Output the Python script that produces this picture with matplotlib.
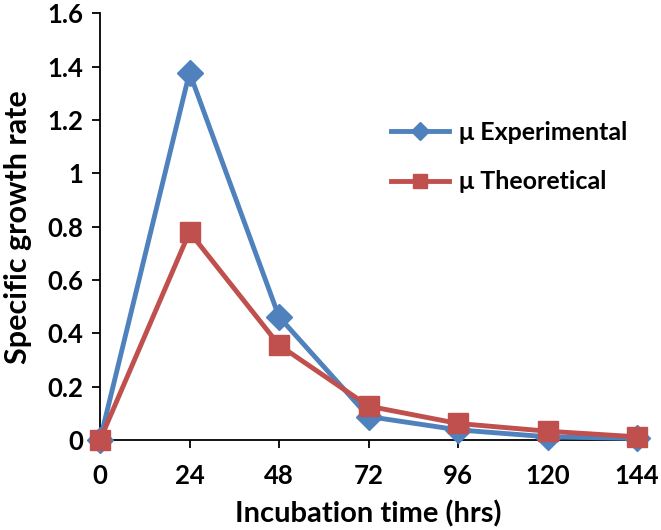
import matplotlib.pyplot as plt

# incubation time (hrs) and specific growth rate values
hours = [0, 24, 48, 72, 96, 120, 144]
mu_experimental = [0.0, 1.378, 0.462, 0.088, 0.038, 0.012, 0.006]
mu_theoretical = [0.0, 0.78, 0.356, 0.127, 0.062, 0.033, 0.012]

blue = '#4F81BD'
red = '#C0504D'

plt.rcParams['font.family'] = ['Lato', 'DejaVu Sans']
plt.rcParams['font.weight'] = 'bold'

fig = plt.figure(figsize=(6.61, 5.30), dpi=100)
ax = fig.add_axes([0.1513, 0.1698, 0.8124, 0.805])

ax.plot(hours, mu_experimental, color=blue, lw=3.5, marker='D', ms=13,
        clip_on=False, zorder=3, label='\u03bc Experimental')
ax.plot(hours, mu_theoretical, color=red, lw=3.5, marker='s', ms=14,
        clip_on=False, zorder=4, label='\u03bc Theoretical')

ax.set_xlim(0, 144)
ax.set_ylim(0, 1.6)
ax.set_xticks(hours)
ax.set_xticklabels([str(h) for h in hours])
ax.set_yticks([0, 0.2, 0.4, 0.6, 0.8, 1.0, 1.2, 1.4, 1.6])
ax.set_yticklabels(['0', '0.2', '0.4', '0.6', '0.8', '1', '1.2', '1.4', '1.6'])

for s in ['top', 'right']:
    ax.spines[s].set_visible(False)
for s in ['left', 'bottom']:
    ax.spines[s].set_linewidth(1.3)
ax.tick_params(direction='out', length=6, width=1.3, labelsize=18.5)
ax.tick_params(axis='x', pad=11)
ax.tick_params(axis='y', pad=6)

ax.set_xlabel('Incubation time (hrs)', fontsize=21, fontweight='bold', labelpad=9)
ax.set_ylabel('Specific growth rate', fontsize=22, fontweight='bold', labelpad=11)

ax.legend(loc='upper left', bbox_to_anchor=(0.5, 0.8), frameon=False,
          prop={'size': 18, 'weight': 'bold'}, handlelength=2.3,
          labelspacing=1.05, handletextpad=0.4, markerscale=0.7)

fig.savefig('out.png', dpi=100)
